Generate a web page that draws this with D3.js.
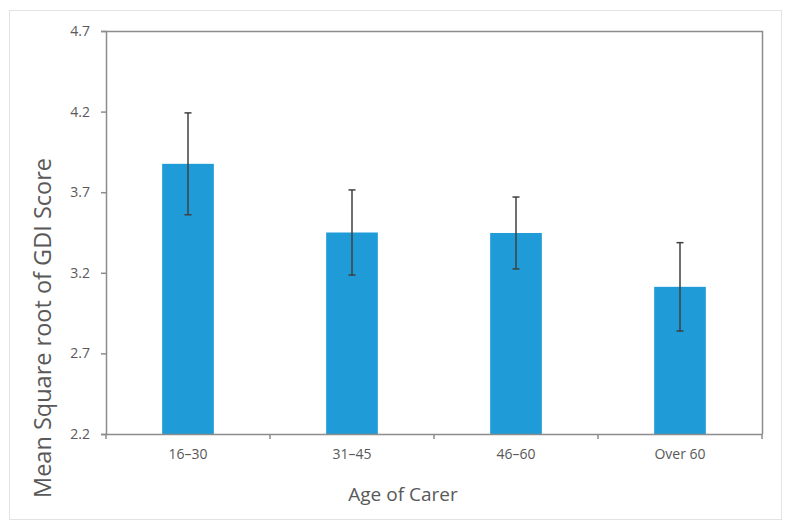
<!DOCTYPE html>
<html>
<head>
<meta charset="utf-8">
<script src="https://cdn.jsdelivr.net/npm/d3@7"></script>
<style>
  body { margin: 0; background: #fff; }
  text { font-family: "Open Sans", "Noto Sans", sans-serif; }
</style>
</head>
<body>
<script>
// chart values
const categories = ["16–30", "31–45", "46–60", "Over 60"];
const means = [3.876, 3.45, 3.447, 3.113];
const errors = [0.316, 0.264, 0.223, 0.274];
const yTicks = [2.2, 2.7, 3.2, 3.7, 4.2, 4.7];

const W = 792, H = 530;
const margin = {top: 31, right: 30, bottom: 96, left: 106};
const width = W - margin.left - margin.right,
      height = H - margin.top - margin.bottom;

const svg = d3.select("body").append("svg")
  .attr("width", W).attr("height", H);

// outer frame
svg.append("rect")
  .attr("x", 9.5).attr("y", 10.5)
  .attr("width", 772).attr("height", 509)
  .attr("fill", "#fff").attr("stroke", "#e3e3e3");

const g = svg.append("g")
  .attr("transform", "translate(" + margin.left + "," + margin.top + ")");

const x = d3.scaleBand().domain(categories).range([0, width]).paddingInner(0).paddingOuter(0);
const y = d3.scaleLinear().domain([2.2, 4.7]).range([height, 0]);

const barW = x.bandwidth() * 0.315;

// bars
g.selectAll("rect.bar")
  .data(categories)
  .enter().append("rect")
  .attr("class", "bar")
  .attr("x", (d) => x(d) + x.bandwidth() / 2 - barW / 2)
  .attr("y", (d, i) => y(means[i]))
  .attr("width", barW)
  .attr("height", (d, i) => height - y(means[i]))
  .attr("fill", "#1f9bd7");

// plot border (top and right)
g.append("path")
  .attr("d", "M0,0.5H" + (width + 0.5) + "V" + height)
  .attr("fill", "none").attr("stroke", "#8c8c8c").attr("stroke-width", 1.5);

// y axis
const yAxis = g.append("g")
  .call(d3.axisLeft(y).tickValues(yTicks).tickFormat(d3.format(".1f")).tickSize(5).tickPadding(11));
yAxis.select(".domain").attr("stroke", "#8c8c8c").attr("stroke-width", 1.5);
yAxis.selectAll(".tick line").attr("stroke", "#8c8c8c").attr("stroke-width", 1.5);
yAxis.selectAll("text").attr("fill", "#595959").style("font-size", "14px");

// x axis with ticks on band edges
const xAxis = g.append("g")
  .attr("transform", "translate(0," + height + ")")
  .call(d3.axisBottom(x).tickSize(0).tickPadding(15));
xAxis.select(".domain").attr("stroke", "#8c8c8c").attr("stroke-width", 1.5);
xAxis.selectAll("text").attr("fill", "#595959").style("font-size", "14px");
const edges = categories.map((d) => x(d)).concat([width]);
xAxis.selectAll("line.edge")
  .data(edges)
  .enter().append("line")
  .attr("class", "edge")
  .attr("x1", (d) => d).attr("x2", (d) => d)
  .attr("y1", 0).attr("y2", 5)
  .attr("stroke", "#8c8c8c").attr("stroke-width", 1.5);

// error bars
const capW = 7;
const eb = g.selectAll("g.err")
  .data(categories)
  .enter().append("g")
  .attr("class", "err")
  .attr("stroke", "#404040").attr("stroke-width", 1.5);
eb.append("line")
  .attr("x1", (d) => x(d) + x.bandwidth() / 2)
  .attr("x2", (d) => x(d) + x.bandwidth() / 2)
  .attr("y1", (d, i) => y(means[i] + errors[i]))
  .attr("y2", (d, i) => y(means[i] - errors[i]));
eb.append("line")
  .attr("x1", (d) => x(d) + x.bandwidth() / 2 - capW / 2)
  .attr("x2", (d) => x(d) + x.bandwidth() / 2 + capW / 2)
  .attr("y1", (d, i) => y(means[i] + errors[i]))
  .attr("y2", (d, i) => y(means[i] + errors[i]));
eb.append("line")
  .attr("x1", (d) => x(d) + x.bandwidth() / 2 - capW / 2)
  .attr("x2", (d) => x(d) + x.bandwidth() / 2 + capW / 2)
  .attr("y1", (d, i) => y(means[i] - errors[i]))
  .attr("y2", (d, i) => y(means[i] - errors[i]));

// axis titles
svg.append("text")
  .attr("x", 403)
  .attr("y", 501)
  .attr("text-anchor", "middle")
  .attr("fill", "#595959")
  .style("font-size", "19px")
  .text("Age of Carer");

svg.append("text")
  .attr("transform", "translate(51,328) rotate(-90)")
  .attr("text-anchor", "middle")
  .attr("fill", "#595959")
  .style("font-size", "23.5px")
  .text("Mean Square root of GDI Score");
</script>
</body>
</html>
